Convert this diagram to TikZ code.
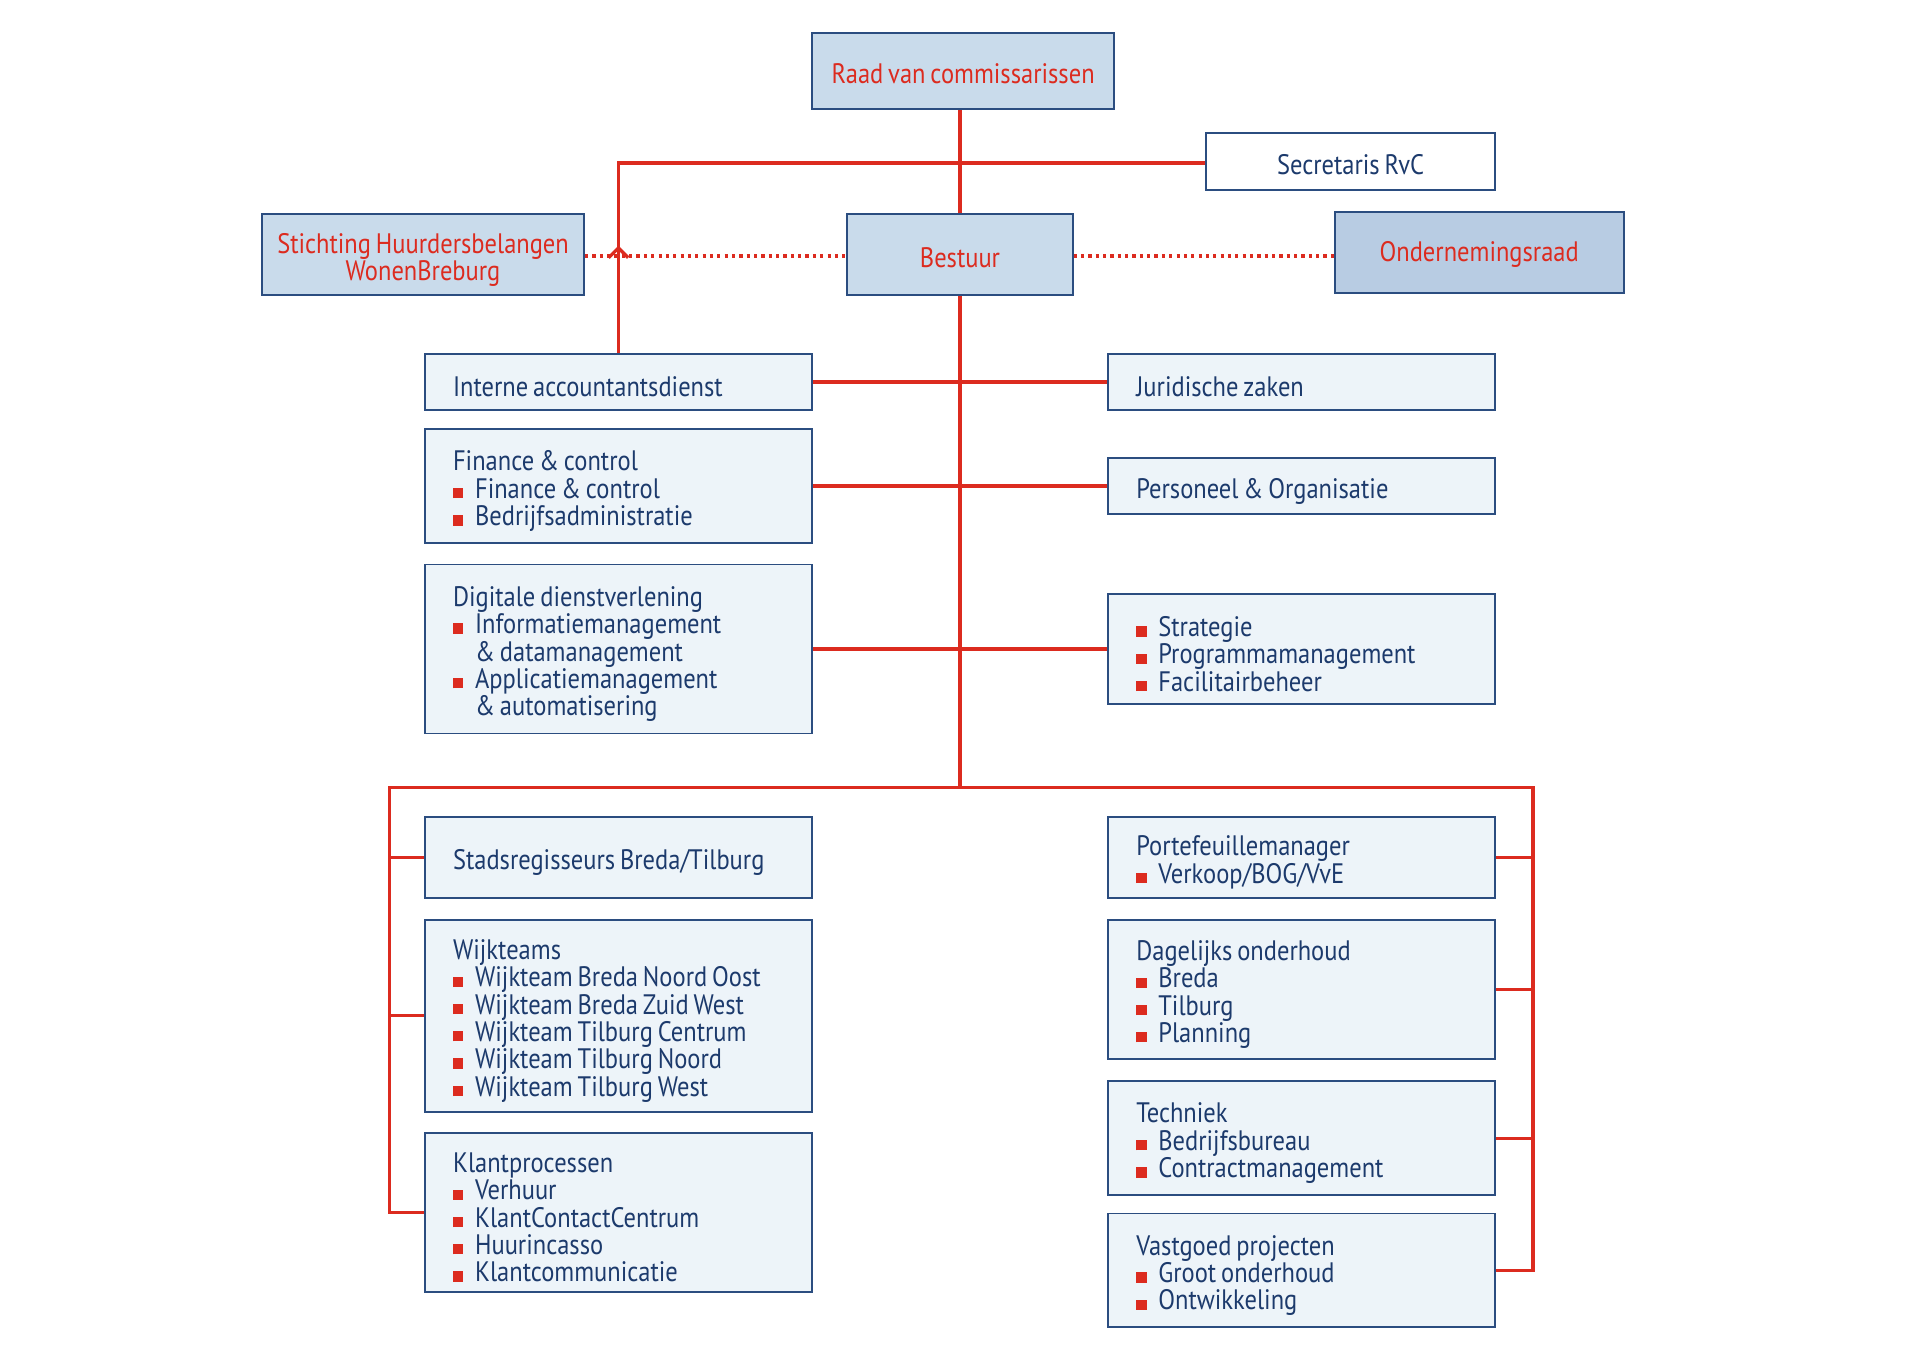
\documentclass[tikz,border=0pt]{standalone}
\usepackage{fontspec}
\setmainfont{PT Sans}[FakeStretch=0.87,WordSpace=0.75]
\usetikzlibrary{calc}
\definecolor{cred}{HTML}{DC2B1F}
\definecolor{cblue}{HTML}{2B4D80}
\definecolor{ctext}{HTML}{1C3A6C}
\definecolor{fillA}{HTML}{C9DBEB}
\definecolor{fillB}{HTML}{B8CCE3}
\definecolor{fillC}{HTML}{EDF4F9}
\newcommand\bl{\makebox[9pt][l]{\textcolor{cred}{\rule{4.2pt}{4.2pt}}}}
\newcommand\ind{\hspace*{9pt}}
\newcommand\upstrut{\rule{0pt}{12.3pt}}
\newcommand\smstrut{\rule{0pt}{10.4pt}}
\tikzset{
  basebox/.style={draw=cblue, line width=0.8pt, rectangle, inner ysep=0pt,
     font=\fontsize{11.5}{11.15}\selectfont},
  topbox/.style={basebox, fill=fillA, text=cred, align=center, minimum width=#1,
     execute at begin node=\smstrut},
  listbox/.style={basebox, fill=fillC, text=ctext, align=left, text width=135pt,
     inner xsep=11.5pt, minimum height=#1,
     execute at begin node={\spaceskip=0pt\xspaceskip=0pt\upstrut}},
  redline/.style={draw=cred, line width=1.35pt},
  dotline/.style={draw=cred, line width=1.3pt, dash pattern=on 1.3pt off 1.7pt}
}
\begin{document}
\begin{tikzpicture}[x=0.5pt,y=-0.5pt]
\useasboundingbox[fill=white] (0,0) rectangle (1568,1108);
% top level
\node[topbox=123.5pt, minimum height=31pt] (raad) at (786.5,58) {Raad van commissarissen};
\node[basebox, fill=white, text=ctext, minimum width=118pt, minimum height=23pt, execute at begin node=\smstrut] (secr) at (1103,132) {Secretaris RvC};
\node[topbox=131.5pt, minimum height=33pt] (shb) at (345.5,208) {\upstrut Stichting Huurdersbelangen\\WonenBreburg};
\node[topbox=92pt, minimum height=33pt] (best) at (784,208) {Bestuur};
\node[topbox=118pt, fill=fillB, minimum height=33pt] (or) at (1208,206) {Ondernemingsraad};
% staff left
\node[listbox=23pt] (iad) at (505,312) {Interne accountantsdienst};
\node[listbox=46.5pt] (fc) at (505,397) {Finance \& control\\\bl Finance \& control\\\bl Bedrijfsadministratie};
\node[listbox=69pt] (dd) at (505,530) {Digitale dienstverlening\\\bl Informatiemanagement\\\ind\& datamanagement\\\bl Applicatiemanagement\\\ind\& automatisering};
% staff right
\node[listbox=23pt] (jz) at (1063,312) {Juridische zaken};
\node[listbox=23pt] (po) at (1063,397) {Personeel \& Organisatie};
\node[listbox=45pt] (str) at (1063,530) {\bl Strategie\\\bl Programmamanagement\\\bl Facilitairbeheer};
% lower left
\node[listbox=33pt] (sr) at (505,700) {Stadsregisseurs Breda/Tilburg};
\node[listbox=78.5pt] (wt) at (505,829.5) {Wijkteams\\\bl Wijkteam Breda Noord Oost\\\bl Wijkteam Breda Zuid West\\\bl Wijkteam Tilburg Centrum\\\bl Wijkteam Tilburg Noord\\\bl Wijkteam Tilburg West};
\node[listbox=65pt] (kp) at (505,990) {Klantprocessen\\\bl Verhuur\\\bl KlantContactCentrum\\\bl Huurincasso\\\bl Klantcommunicatie};
% lower right
\node[listbox=33pt] (pm) at (1063,700) {Portefeuillemanager\\\bl Verkoop/BOG/VvE};
\node[listbox=57pt] (do) at (1063,808) {Dagelijks onderhoud\\\bl Breda\\\bl Tilburg\\\bl Planning};
\node[listbox=46.5pt] (te) at (1063,929.5) {Techniek\\\bl Bedrijfsbureau\\\bl Contractmanagement};
\node[listbox=46.5pt] (vp) at (1063,1037.5) {Vastgoed projecten\\\bl Groot onderhoud\\\bl Ontwikkeling};
% connectors
\draw[redline] (best.north) -- (best.north |- raad.south);
\draw[redline] (secr.west |- 0,133) -| (iad.north);
\coordinate (tip) at (505,202.5);
\draw[redline] ($(tip)+(-8,8)$) -- (tip) -- ($(tip)+(8,8)$);
\draw[dotline] (shb.east |- 0,209) -- (best.west |- 0,209);
\draw[dotline] (best.east |- 0,209) -- (or.west |- 0,209);
\draw[redline] (iad.east) -- (jz.west);
\draw[redline] (fc.east) -- (fc.east -| po.west);
\draw[redline] (dd.east) -- (dd.east -| str.west);
\coordinate (busL) at (318,643);
\coordinate (busR) at (1252,643);
\draw[redline] (best.south) -- (best.south |- busL);
\draw[redline, line join=miter] (kp.west) -| (busL) -- (busR) |- (vp.east);
\draw[redline] (sr.west) -- (sr.west -| busL);
\draw[redline] (wt.west) -- (wt.west -| busL);
\draw[redline] (pm.east) -- (pm.east -| busR);
\draw[redline] (do.east) -- (do.east -| busR);
\draw[redline] (te.east) -- (te.east -| busR);
\end{tikzpicture}
\end{document}
